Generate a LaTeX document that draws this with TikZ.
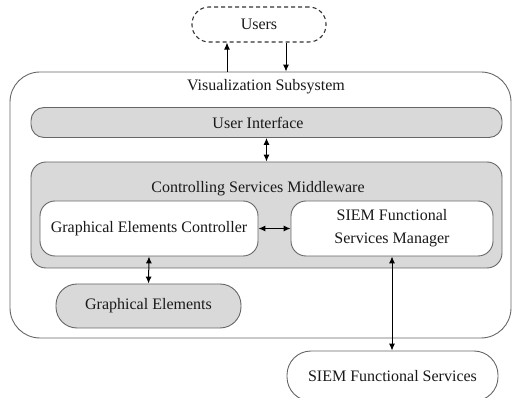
\documentclass[tikz,border=0pt]{standalone}
\usepackage{fontspec}
\setmainfont{Liberation Serif}
\usetikzlibrary{arrows.meta}
\begin{document}
\begin{tikzpicture}[x=1pt,y=-1pt,
    every node/.style={font=\fontsize{16}{19}\selectfont,text=black!90},
    box/.style={draw=black!60,line width=0.9pt,inner sep=0pt,align=center},
    greybox/.style={box,fill=black!15},
    whitebox/.style={box,fill=white},
    link/.style={line width=1pt,-{Latex[length=7pt,width=6pt]}},
    bilink/.style={line width=1pt,{Latex[length=7pt,width=6pt]}-{Latex[length=7pt,width=6pt]}}]
    \pgfmathsetmacro{\outerroundingradius}{30}
    \pgfmathsetmacro{\innerroundingradius}{15}
    \pgfmathsetmacro{\barroundingradius}{13}
    \useasboundingbox (0,0) rectangle (512,398);
    % users outside the subsystem
    \node[box,draw=black!80,line width=1.1pt,dash pattern=on 4pt off 3pt,rounded corners=17pt,minimum width=134pt,minimum height=35pt] (users) at (259,24.5) {Users};
    % the subsystem and its title
    \node[box,minimum width=501pt,minimum height=266pt,rounded corners=\outerroundingradius pt] (vs) at (260.5,205) {};
    \node (vstitle) at (266,87) {Visualization Subsystem};
    \node[greybox,minimum width=471pt,minimum height=30pt,rounded corners=\barroundingradius pt] (ui) at (266.5,122.5) {};
    \node (uititle) at (258,123) {User Interface};
    \node[greybox,minimum width=471pt,minimum height=106pt,rounded corners=\innerroundingradius pt] (mw) at (266.5,215) {};
    \node (mwtitle) at (258,189) {Controlling Services Middleware};
    \node[whitebox,minimum width=218pt,minimum height=55pt,rounded corners=\innerroundingradius pt] (gec) at (149,228.5) {Graphical Elements Controller};
    \node[whitebox,font=\fontsize{16}{23}\selectfont,minimum width=202pt,minimum height=55pt,rounded corners=\innerroundingradius pt] (sfsm) at (392,228.5) {SIEM Functional\\Services Manager};
    \node[greybox,minimum width=185pt,minimum height=44pt,rounded corners=21pt] (ge) at (148.5,306) {Graphical Elements};
    % services outside the subsystem
    \node[whitebox,minimum width=211pt,minimum height=50pt,rounded corners=24pt] (sfs) at (392.5,376) {SIEM Functional Services};
    % connectors
    \draw[link] ([xshift=-32pt]users.south |- vs.north) -- ([xshift=-32pt]users.south);
    \draw[link] ([xshift=27pt]users.south) -- ([xshift=27pt]users.south |- vs.north);
    \draw[bilink] (ui.south) -- (mw.north);
    \draw[bilink] (gec.east) -- (sfsm.west);
    \draw[bilink] (gec.south) -- (ge.north);
    \draw[bilink] (sfsm.south) -- (sfs.north -| sfsm.south);
\end{tikzpicture}
\end{document}
